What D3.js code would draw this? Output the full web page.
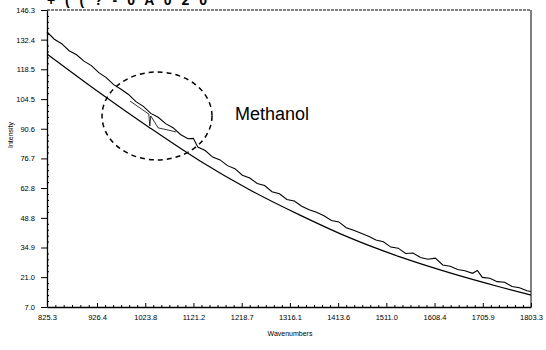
<!DOCTYPE html>
<html>
<head>
<meta charset="utf-8">
<script src="https://cdn.jsdelivr.net/npm/d3@7"></script>
<style>
  body { margin: 0; background: #fff; }
  svg { display: block; font-family: "Liberation Sans", Arial, sans-serif; }
  .axis path, .axis line { stroke: #000; }
  .axis text { font-size: 7.5px; fill: #000; }
</style>
</head>
<body>
<div id="chart"></div>
<script>
// tick labels on the axes
var xTicks = [825.3, 926.4, 1023.8, 1121.2, 1218.7, 1316.1, 1413.6, 1511.0, 1608.4, 1705.9, 1803.3];
var yTicks = [7.0, 21.0, 34.9, 48.8, 62.8, 76.7, 90.6, 104.5, 118.5, 132.4, 146.3];

// measured spectrum (noisy trace): wavenumber, intensity
var sampleWave = [825, 840, 855, 870, 885, 900, 915, 930, 945, 960, 975, 990, 1005, 1020, 1035, 1050,
  1065, 1080, 1095, 1110, 1121, 1130, 1145, 1160, 1175, 1190, 1205, 1220, 1235, 1250, 1265, 1280,
  1295, 1310, 1325, 1340, 1355, 1370, 1385, 1400, 1415, 1430, 1445, 1460, 1475, 1490, 1505, 1520,
  1535, 1550, 1565, 1580, 1595, 1610, 1625, 1640, 1655, 1670, 1685, 1695, 1705, 1720, 1735, 1750,
  1765, 1780, 1795, 1803];
var sampleInt = [136.1, 132.6, 130.5, 127.2, 125.3, 122.3, 120.2, 116.9, 114.6, 111.3, 109.1, 106.7, 103.3, 101.1, 97.8, 96.0,
  93.0, 91.1, 87.9, 85.9, 86.1, 82.0, 80.4, 77.3, 76.0, 73.3, 71.9, 68.8, 67.5, 64.9, 64.0, 61.1,
  60.1, 57.4, 56.7, 54.3, 52.6, 51.4, 49.8, 47.6, 46.9, 44.2, 43.0, 41.6, 40.2, 38.4, 37.6, 35.1,
  34.6, 32.1, 32.3, 30.2, 29.4, 29.9, 26.7, 26.1, 24.6, 24.0, 22.8, 24.1, 20.9, 20.5, 18.9, 18.6,
  16.6, 16.0, 14.6, 14.3];

// methanol absorption trace inside the circle
var methWave = [993, 1019, 1031, 1033, 1035, 1050, 1070, 1086];
var methInt = [103.6, 99.4, 97.5, 91.9, 96.6, 91.0, 90.0, 89.1];

// smooth reference curve
var refWave = [825.3, 932.4, 1033.4, 1134.5, 1235.5, 1336.5, 1437.6, 1538.6, 1639.6, 1740.7, 1803.3];
var refInt = [125.7, 107.4, 91.0, 75.5, 61.9, 50.1, 39.4, 30.5, 23.0, 16.4, 12.6];

// annotation: dashed ellipse (centre and radii in data units) and label
var circleCenter = [1047.6, 96.6];
var circleRadius = [111.1, 20.6];
var labelText = "Methanol";
var labelPos = [1205, 94.7];

var margin = {left: 47, right: 15, top: 10, bottom: 43};
var totalWidth = 546, totalHeight = 350;
var width = totalWidth - margin.left - margin.right;
var height = totalHeight - margin.top - margin.bottom;

var svg = d3.select("#chart").append("svg")
  .attr("width", totalWidth)
  .attr("height", totalHeight);

var g = svg.append("g")
  .attr("transform", "translate(" + margin.left + "," + margin.top + ")");

var xScale = d3.scaleLinear().domain([825.3, 1803.3]).range([0, width]);
var yScale = d3.scaleLinear().domain([7.0, 146.3]).range([height, 0]);

// cropped title at the very top
svg.append("text")
  .attr("x", 47).attr("y", 5)
  .attr("font-size", 14).attr("font-weight", "bold")
  .attr("letter-spacing", 3)
  .text("+ ( ( ? - 0 A 0 2 0");

// frame: dotted top, thin right
g.append("line").attr("x1", 0).attr("x2", width).attr("y1", 0).attr("y2", 0)
  .attr("stroke", "#000").attr("stroke-width", 1).attr("stroke-dasharray", "3,1");
g.append("line").attr("x1", width).attr("x2", width).attr("y1", 0).attr("y2", height)
  .attr("stroke", "#000").attr("stroke-width", 1);

// minor ticks
var xMinor = [];
for (var i = 0; i < xTicks.length - 1; i++) {
  for (var k = 1; k < 6; k++) xMinor.push(xTicks[i] + (xTicks[i + 1] - xTicks[i]) * k / 6);
}
var yMinor = [];
for (var i = 0; i < yTicks.length - 1; i++) {
  for (var k = 1; k < 5; k++) yMinor.push(yTicks[i] + (yTicks[i + 1] - yTicks[i]) * k / 5);
}

g.append("g").attr("class", "axis")
  .attr("transform", "translate(0," + height + ")")
  .call(d3.axisBottom(xScale).tickValues(xMinor).tickSize(-2).tickFormat(""))
  .select(".domain").remove();
g.append("g").attr("class", "axis")
  .call(d3.axisLeft(yScale).tickValues(yMinor).tickSize(-2).tickFormat(""))
  .select(".domain").remove();

var xAxis = g.append("g").attr("class", "axis")
  .attr("transform", "translate(0," + height + ")")
  .call(d3.axisBottom(xScale).tickValues(xTicks).tickSizeInner(-4).tickSizeOuter(0)
    .tickPadding(8).tickFormat(d3.format(".1f")));
xAxis.select(".domain").attr("stroke-width", 1.3);

var yAxis = g.append("g").attr("class", "axis")
  .call(d3.axisLeft(yScale).tickValues(yTicks).tickSizeInner(6).tickSizeOuter(0)
    .tickPadding(6).tickFormat(d3.format(".1f")));
yAxis.select(".domain").attr("stroke-width", 1.3);

// axis titles
svg.append("text")
  .attr("transform", "translate(13," + 135 + ") rotate(-90)")
  .attr("text-anchor", "middle")
  .attr("font-size", 7)
  .text("Intensity");
svg.append("text")
  .attr("x", 290).attr("y", 336)
  .attr("text-anchor", "middle")
  .attr("font-size", 7)
  .text("Wavenumbers");

// curves
var line = d3.line()
  .x(function(d) { return xScale(d[0]); })
  .y(function(d) { return yScale(d[1]); });

var refData = refWave.map(function(w, i) { return [w, refInt[i]]; });
g.append("path")
  .datum(refData)
  .attr("d", line.curve(d3.curveMonotoneX))
  .attr("fill", "none").attr("stroke", "#000").attr("stroke-width", 1.2);

var sampleData = sampleWave.map(function(w, i) { return [w, sampleInt[i]]; });
g.append("path")
  .datum(sampleData)
  .attr("d", line.curve(d3.curveLinear))
  .attr("fill", "none").attr("stroke", "#000").attr("stroke-width", 1.1);

var methData = methWave.map(function(w, i) { return [w, methInt[i]]; });
g.append("path")
  .datum(methData)
  .attr("d", line.curve(d3.curveLinear))
  .attr("fill", "none").attr("stroke", "#000").attr("stroke-width", 0.8);

// annotation
g.append("ellipse")
  .attr("cx", xScale(circleCenter[0]))
  .attr("cy", yScale(circleCenter[1]))
  .attr("rx", xScale(circleCenter[0] + circleRadius[0]) - xScale(circleCenter[0]))
  .attr("ry", yScale(circleCenter[1] - circleRadius[1]) - yScale(circleCenter[1]))
  .attr("fill", "none").attr("stroke", "#000").attr("stroke-width", 1.5)
  .attr("stroke-dasharray", "5,4");

g.append("text")
  .attr("x", xScale(labelPos[0]))
  .attr("y", yScale(labelPos[1]))
  .attr("font-size", 18)
  .text(labelText);
</script>
</body>
</html>
